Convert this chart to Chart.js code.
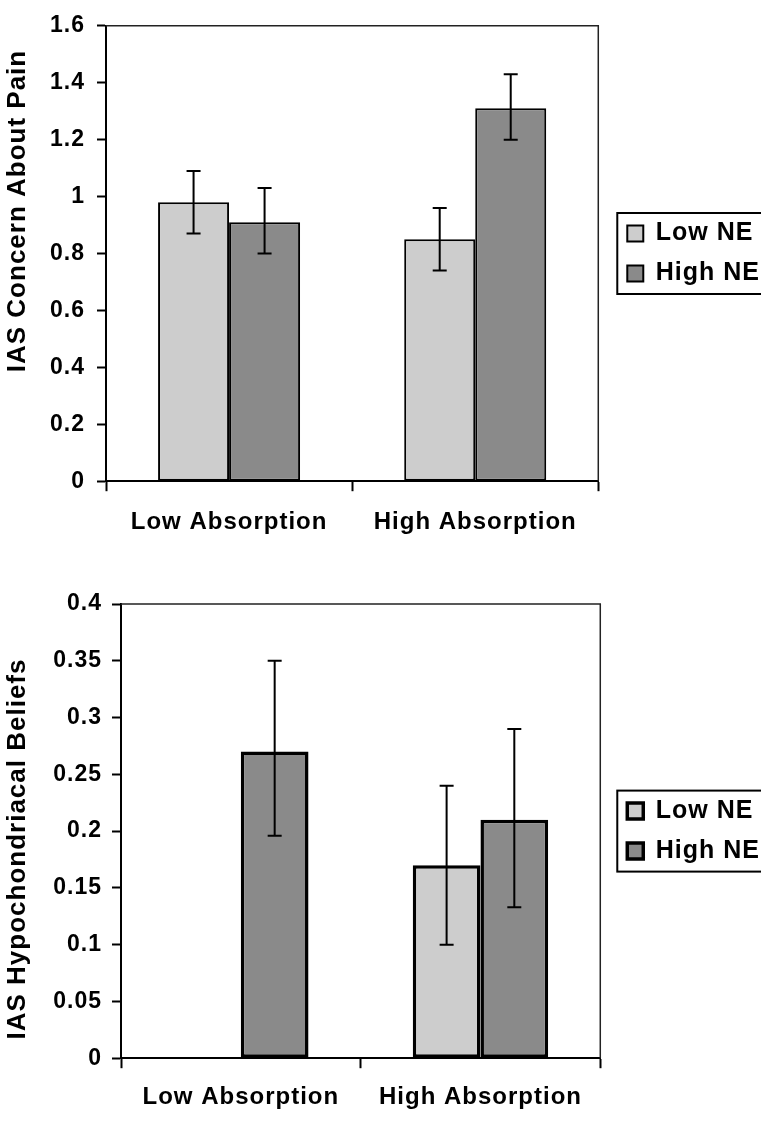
<!DOCTYPE html>
<html>
<head>
<meta charset="utf-8">
<script src="https://cdn.jsdelivr.net/npm/chart.js@4"></script>
<style>
  html, body { margin: 0; padding: 0; background: #fff; overflow: hidden; }
  #page { position: relative; width: 761px; height: 1126px; overflow: hidden; }
  #painChart { position: absolute; left: 0; top: 0; }
  #hypoChart { position: absolute; left: 0; top: 580px; }
</style>
</head>
<body>
<div id="page">
  <canvas id="painChart" width="770" height="560"></canvas>
  <canvas id="hypoChart" width="770" height="550"></canvas>
</div>
<script>
const categories = ['Low Absorption', 'High Absorption'];
const seriesNames = ['Low NE', 'High NE'];
const seriesColors = ['#cdcdcd', '#8a8a8a'];

// top panel: IAS Concern About Pain
const painLowNE = [0.98, 0.85];
const painHighNE = [0.91, 1.31];
const painLowNEErrLo = [0.87, 0.74];
const painLowNEErrHi = [1.09, 0.96];
const painHighNEErrLo = [0.80, 1.20];
const painHighNEErrHi = [1.03, 1.43];
const painTicks = ['0', '0.2', '0.4', '0.6', '0.8', '1', '1.2', '1.4', '1.6'];

// bottom panel: IAS Hypochondriacal Beliefs
const hypoLowNE = [null, 0.17];
const hypoHighNE = [0.27, 0.21];
const hypoLowNEErrLo = [null, 0.10];
const hypoLowNEErrHi = [null, 0.24];
const hypoHighNEErrLo = [0.196, 0.133];
const hypoHighNEErrHi = [0.35, 0.29];
const hypoTicks = ['0', '0.05', '0.1', '0.15', '0.2', '0.25', '0.3', '0.35', '0.4'];

const fontFamily = "'Liberation Sans', Arial, Helvetica, sans-serif";

// slightly wider text, like the original figure
const spacingPlugin = {
  id: 'spacing',
  afterInit(chart) { chart.ctx.letterSpacing = '1px'; },
  beforeUpdate(chart) { chart.ctx.letterSpacing = '1px'; },
  beforeDraw(chart) { chart.ctx.letterSpacing = '1px'; }
};

// top and right edge of the plot box
const framePlugin = {
  id: 'frame',
  beforeDatasetsDraw(chart) {
    const a = chart.chartArea;
    const ctx = chart.ctx;
    ctx.save();
    ctx.strokeStyle = '#222';
    ctx.lineWidth = 1.5;
    ctx.beginPath();
    ctx.moveTo(a.left, a.top);
    ctx.lineTo(a.right, a.top);
    ctx.lineTo(a.right, a.bottom);
    ctx.stroke();
    ctx.restore();
  }
};

const errorBarPlugin = {
  id: 'errorBars',
  afterDatasetsDraw(chart) {
    const ctx = chart.ctx;
    const yScale = chart.scales.y;
    ctx.save();
    ctx.strokeStyle = '#000';
    ctx.lineWidth = 2;
    chart.data.datasets.forEach((ds, i) => {
      const meta = chart.getDatasetMeta(i);
      meta.data.forEach((bar, j) => {
        const lo = ds.errLo[j];
        const hi = ds.errHi[j];
        if (lo == null || hi == null) return;
        const yLo = yScale.getPixelForValue(lo);
        const yHi = yScale.getPixelForValue(hi);
        ctx.beginPath();
        ctx.moveTo(bar.x, yLo);
        ctx.lineTo(bar.x, yHi);
        ctx.moveTo(bar.x - 7, yLo);
        ctx.lineTo(bar.x + 7, yLo);
        ctx.moveTo(bar.x - 7, yHi);
        ctx.lineTo(bar.x + 7, yHi);
        ctx.stroke();
      });
    });
    ctx.restore();
  }
};

const legendBoxPlugin = {
  id: 'legendBox',
  afterDraw(chart) {
    const boxes = chart.legend.legendHitBoxes;
    if (!boxes || !boxes.length) return;
    const left = Math.min(...boxes.map(b => b.left)) - 10;
    const top = Math.min(...boxes.map(b => b.top)) - 8;
    const bottom = Math.max(...boxes.map(b => b.top + b.height)) + 8;
    const ctx = chart.ctx;
    ctx.save();
    ctx.strokeStyle = '#000';
    ctx.lineWidth = 2;
    ctx.strokeRect(left, top, chart.width + 20 - left, bottom - top);
    ctx.restore();
  }
};

// rotated y title, placed like in the original (not centred on the axis)
const sideTitlePlugin = {
  id: 'sideTitle',
  afterDraw(chart, args, o) {
    const ctx = chart.ctx;
    ctx.save();
    ctx.translate(o.x, o.y);
    ctx.rotate(-Math.PI / 2);
    ctx.font = 'bold ' + o.size + 'px ' + fontFamily;
    ctx.fillStyle = '#000';
    ctx.textAlign = 'center';
    ctx.textBaseline = 'middle';
    ctx.fillText(o.text, 0, 0);
    ctx.restore();
  }
};

function makeChart(canvasId, opts) {
  return new Chart(document.getElementById(canvasId), {
    type: 'bar',
    data: {
      labels: categories,
      datasets: [{
        label: seriesNames[0],
        data: opts.lowNE,
        errLo: opts.lowNEErrLo,
        errHi: opts.lowNEErrHi,
        backgroundColor: seriesColors[0],
        borderColor: '#000',
        borderWidth: opts.barBorder,
        borderSkipped: false
      }, {
        label: seriesNames[1],
        data: opts.highNE,
        errLo: opts.highNEErrLo,
        errHi: opts.highNEErrHi,
        backgroundColor: seriesColors[1],
        borderColor: '#000',
        borderWidth: opts.barBorder,
        borderSkipped: false
      }]
    },
    options: {
      responsive: false,
      animation: false,
      events: [],
      categoryPercentage: opts.catPct,
      barPercentage: 1,
      layout: { padding: { top: opts.padTop, bottom: opts.padBottom, left: 0, right: 0 } },
      plugins: {
        tooltip: { enabled: false },
        sideTitle: { text: opts.title, x: 18, y: opts.titleY, size: 26 },
        legend: {
          position: 'right',
          fullSize: false,
          maxWidth: 220,
          labels: {
            color: '#000',
            boxWidth: 16,
            boxHeight: 16,
            padding: 15,
            font: { family: fontFamily, size: 25, weight: 'bold' }
          }
        }
      },
      scales: {
        x: {
          grid: { drawOnChartArea: false, color: '#000', tickLength: 10, tickWidth: 2 },
          border: { color: '#000', width: 2 },
          ticks: {
            color: '#000',
            padding: opts.xPad,
            font: { family: fontFamily, size: 24, weight: 'bold' }
          }
        },
        y: {
          min: 0,
          max: opts.max,
          grid: { drawOnChartArea: false, color: '#000', tickLength: 9, tickWidth: 2 },
          border: { color: '#000', width: 2 },
          ticks: {
            stepSize: opts.step,
            color: '#000',
            padding: opts.yPad,
            font: { family: fontFamily, size: 23, weight: 'bold' },
            callback: (v, i) => opts.tickLabels[i]
          },
          afterFit(s) { s.width = opts.yWidth; }
        },
        y2: {
          position: 'right',
          grid: { display: false, drawTicks: false },
          border: { display: false },
          ticks: { display: false },
          afterFit(s) { s.width = opts.gap; }
        }
      }
    },
    plugins: [spacingPlugin, framePlugin, errorBarPlugin, legendBoxPlugin, sideTitlePlugin]
  });
}

makeChart('painChart', {
  lowNE: painLowNE, highNE: painHighNE,
  lowNEErrLo: painLowNEErrLo, lowNEErrHi: painLowNEErrHi,
  highNEErrLo: painHighNEErrLo, highNEErrHi: painHighNEErrHi,
  tickLabels: painTicks, max: 1.6, step: 0.2,
  title: 'IAS Concern About Pain', titleY: 211,
  barBorder: 2, catPct: 0.577,
  padTop: 18, padBottom: 6, xPad: 17, yPad: 12, yWidth: 106, gap: 14
});

makeChart('hypoChart', {
  lowNE: hypoLowNE, highNE: hypoHighNE,
  lowNEErrLo: hypoLowNEErrLo, lowNEErrHi: hypoLowNEErrHi,
  highNEErrLo: hypoHighNEErrLo, highNEErrHi: hypoHighNEErrHi,
  tickLabels: hypoTicks, max: 0.4, step: 0.05,
  title: 'IAS Hypochondriacal Beliefs', titleY: 269,
  barBorder: 3.5, catPct: 0.565,
  padTop: 24, padBottom: 3, xPad: 15, yPad: 10, yWidth: 121, gap: 12
});
</script>
</body>
</html>
